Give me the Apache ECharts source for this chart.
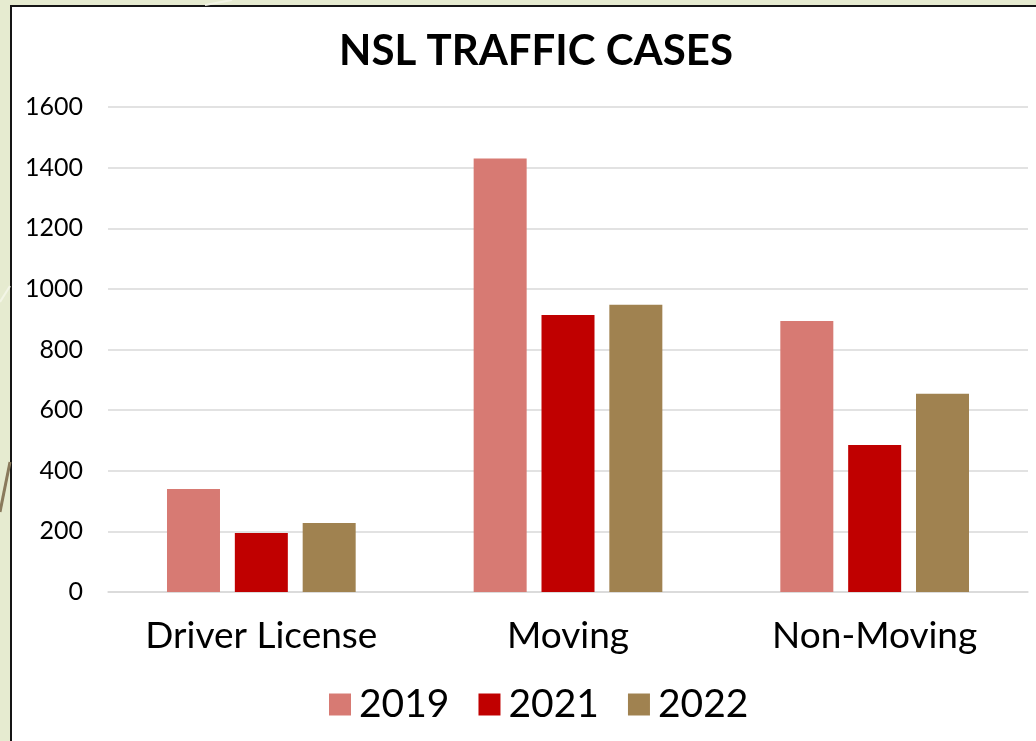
<!DOCTYPE html>
<html>
<head>
<meta charset="utf-8">
<title>NSL Traffic Cases</title>
<script src="https://cdn.jsdelivr.net/npm/echarts@6/dist/echarts.min.js"></script>
<style>
	html, body { margin: 0; padding: 0; }
	body { width: 1036px; height: 741px; background: #e6ebd0; position: relative; overflow: hidden; }
	#panel { position: absolute; left: 10px; top: 5px; width: 1040px; height: 760px; background: #fff; border: 2px solid #151515; }
	#chart { position: absolute; left: 0; top: 0; width: 1036px; height: 741px; }
</style>
</head>
<body>
<div id="panel"></div>
<div id="chart"></div>
<script>
// chart data
var categories = ['Driver License', 'Moving', 'Non-Moving'];
var years = ['2019', '2021', '2022'];
var cases2019 = [340, 1430, 894];
var cases2021 = [195, 914, 485];
var cases2022 = [228, 948, 654];
var yTicks = [0, 200, 400, 600, 800, 1000, 1200, 1400, 1600];

var colors = ['#d77a73', '#c00000', '#a08250'];
var font = 'Lato, "Noto Sans", sans-serif';

var chart = echarts.init(document.getElementById('chart'));

var seriesData = [cases2019, cases2021, cases2022];
var series = [];
for (let i = 0; i < years.length; i++) {
	series.push({
		name: years[i],
		type: 'bar',
		data: seriesData[i],
		barWidth: 53,
		barGap: '28%',
		itemStyle: { color: colors[i] }
	});
}

chart.setOption({
	backgroundColor: 'transparent',
	animation: false,
	color: colors,
	title: {
		text: 'NSL TRAFFIC CASES',
		left: 531,
		top: 25,
		textAlign: 'center',
		textStyle: { fontFamily: font, fontSize: 42, fontWeight: 'bold', color: '#000' }
	},
	// decorative lines on the slide background
	graphic: [
		{ type: 'line', shape: { x1: 0, y1: 302, x2: 10, y2: 286 }, style: { stroke: '#f3f5e6', lineWidth: 2 } },
		{ type: 'line', shape: { x1: 0, y1: 512, x2: 10, y2: 462 }, style: { stroke: '#8a7a5c', lineWidth: 3 } },
		{ type: 'line', shape: { x1: 205, y1: 5, x2: 232, y2: 0 }, style: { stroke: '#f3f5e6', lineWidth: 2 } }
	],
	legend: {
		data: years,
		left: 324,
		top: 680,
		icon: 'rect',
		itemWidth: 22,
		itemHeight: 22,
		itemGap: 29,
		textStyle: { fontFamily: font, fontSize: 39, color: '#000', padding: [0, 0, 0, 3] }
	},
	grid: {
		left: 108,
		right: 8,
		top: 107,
		bottom: 149
	},
	xAxis: {
		type: 'category',
		data: categories,
		axisLine: { lineStyle: { color: '#d9d9d9', width: 1.5 } },
		axisTick: { show: false },
		axisLabel: { fontFamily: font, fontSize: 37, color: '#000', margin: 26 }
	},
	yAxis: {
		type: 'value',
		min: yTicks[0],
		max: yTicks[yTicks.length - 1],
		interval: yTicks[1] - yTicks[0],
		axisLine: { show: false },
		axisTick: { show: false },
		axisLabel: { fontFamily: font, fontSize: 25, color: '#000', margin: 25, formatter: function (v) { return String(v); } },
		splitLine: { lineStyle: { color: '#d9d9d9', width: 1.5 } }
	},
	series: series
});
</script>
</body>
</html>
